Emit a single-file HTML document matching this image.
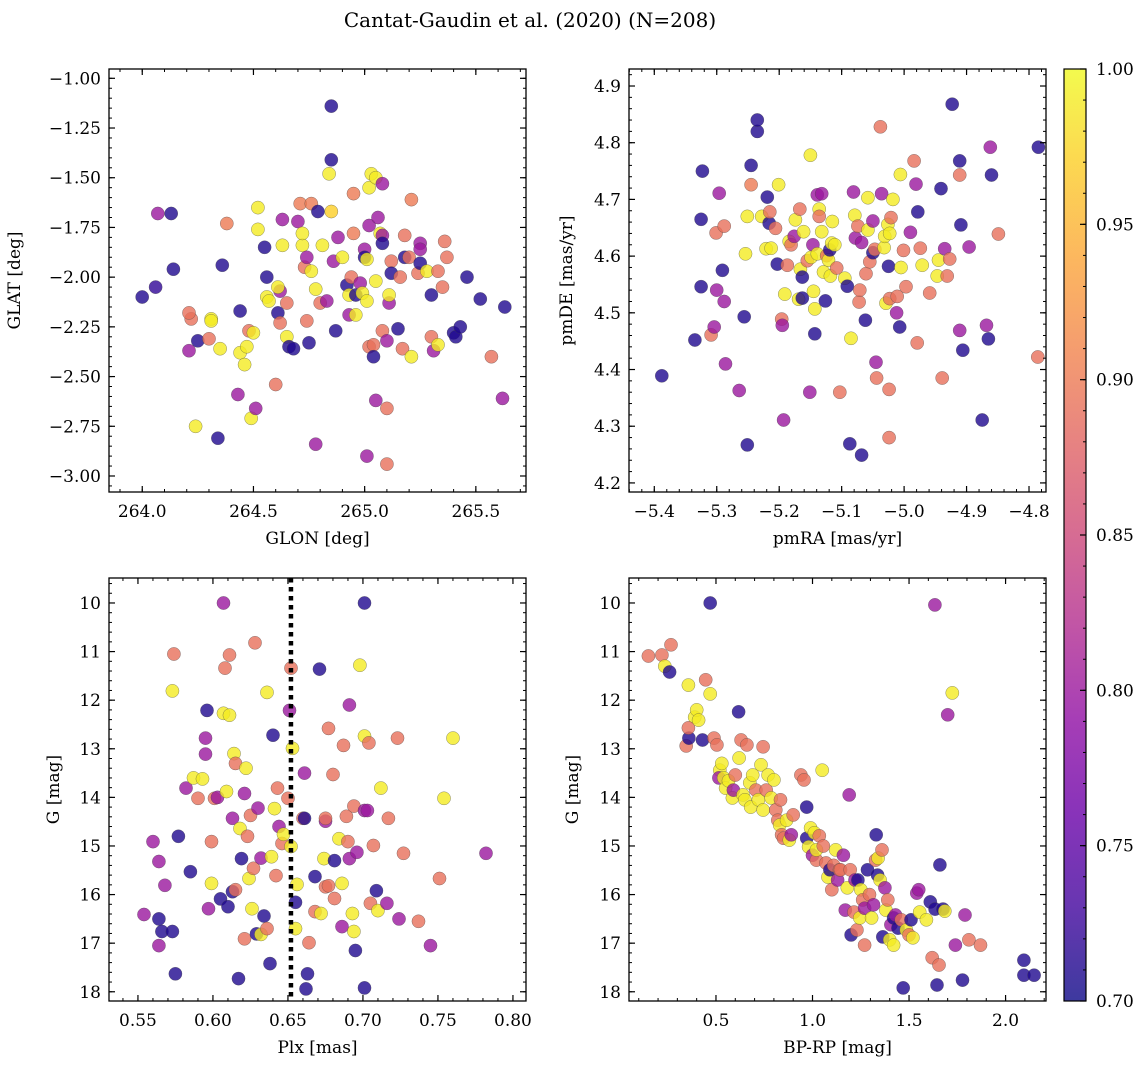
<!DOCTYPE html>
<html><head><meta charset="utf-8">
<style>
html,body{margin:0;padding:0;background:#fff;}
svg{display:block;font-family:"DejaVu Serif","Liberation Serif",serif;}
</style></head>
<body>
<svg id="fig" width="1148" height="1068" viewBox="0 0 1148 1068" xmlns="http://www.w3.org/2000/svg">
<defs>
<linearGradient id="cbgrad" x1="0" y1="1" x2="0" y2="0">
<stop offset="0" stop-color="#0d0887"/><stop offset="0.1" stop-color="#41049d"/><stop offset="0.2" stop-color="#6a00a8"/><stop offset="0.3" stop-color="#8f0da4"/><stop offset="0.4" stop-color="#b12a90"/><stop offset="0.5" stop-color="#cc4778"/><stop offset="0.6" stop-color="#e16462"/><stop offset="0.7" stop-color="#f2844b"/><stop offset="0.8" stop-color="#fca636"/><stop offset="0.9" stop-color="#fcce25"/><stop offset="1" stop-color="#f0f921"/>
</linearGradient>
</defs>
<text x="530" y="27" font-size="20" text-anchor="middle">Cantat-Gaudin et al. (2020) (N=208)</text>
</svg>
<script>
// ---------- Panel 1: GLON / GLAT ----------
const p1x=[264.0,264.07,264.13,264.06,264.14,264.22,264.21,264.21,264.25,264.24,264.30,264.31,264.31,264.34,264.35,264.38,264.36,264.44,264.43,264.44,264.46,264.47,264.48,264.49,264.50,264.51,264.52,264.52,264.55,264.56,264.56,264.57,264.60,264.61,264.62,264.61,264.63,264.63,264.62,264.65,264.65,264.66,264.68,264.70,264.71,264.72,264.72,264.73,264.74,264.74,264.75,264.76,264.76,264.78,264.78,264.79,264.80,264.81,264.83,264.84,264.85,264.85,264.85,264.86,264.87,264.88,264.90,264.92,264.93,264.93,264.94,264.95,264.96,264.95,264.96,264.98,264.99,265.00,265.00,265.01,265.01,265.02,265.02,265.02,265.04,265.04,265.05,265.05,265.06,265.07,265.08,265.08,265.08,265.10,265.11,265.11,265.03,265.05,265.08,265.10,265.01,265.10,265.12,265.12,265.15,265.16,265.17,265.18,265.18,265.20,265.21,265.21,265.24,265.25,265.25,265.28,265.30,265.30,265.31,265.33,265.33,265.35,265.36,265.37,265.40,265.41,265.43,265.46,265.52,265.57,265.62,265.63,265.25];
const p1y=[-2.10,-1.68,-1.68,-2.05,-1.96,-2.21,-2.18,-2.37,-2.32,-2.75,-2.31,-2.21,-2.22,-2.81,-2.36,-1.73,-1.94,-2.17,-2.59,-2.38,-2.44,-2.35,-2.27,-2.71,-2.28,-2.66,-1.65,-1.76,-1.85,-2.00,-2.10,-2.12,-2.54,-2.18,-2.07,-2.05,-1.71,-1.84,-2.23,-2.13,-2.30,-2.35,-2.36,-1.72,-1.63,-1.84,-1.78,-1.95,-1.90,-2.22,-2.33,-1.63,-1.97,-2.06,-2.84,-1.67,-2.13,-1.84,-2.12,-1.48,-1.41,-1.14,-1.67,-1.92,-2.27,-1.80,-1.90,-2.04,-2.09,-2.19,-2.00,-1.78,-2.19,-1.58,-2.09,-2.03,-2.08,-1.86,-1.90,-1.91,-2.12,-1.74,-1.55,-2.35,-2.34,-2.40,-2.02,-2.62,-1.70,-1.78,-1.79,-1.83,-2.27,-2.32,-2.13,-2.09,-1.48,-1.50,-1.53,-2.94,-2.90,-2.66,-1.92,-1.98,-2.26,-2.00,-2.36,-1.79,-1.90,-1.90,-1.61,-2.40,-1.98,-1.83,-1.93,-1.97,-2.30,-2.09,-2.37,-1.97,-2.34,-2.05,-1.82,-1.90,-2.28,-2.30,-2.25,-2.00,-2.11,-2.40,-2.61,-2.15,-1.86];
const p1c=[.71,.80,.71,.72,.71,.89,.89,.80,.71,.99,.89,.99,.99,.71,.99,.90,.71,.71,.80,.99,.99,.99,.89,.99,.99,.80,.99,.99,.71,.71,.99,.99,.89,.71,.80,.99,.80,.99,.89,.89,.99,.71,.71,.80,.90,.99,.99,.89,.80,.89,.71,.90,.99,.99,.80,.71,.89,.99,.80,.99,.71,.71,.97,.80,.71,.80,.99,.71,.99,.80,.89,.90,.99,.90,.71,.80,.99,.80,.71,.99,.99,.80,.99,.89,.89,.71,.99,.80,.80,.99,.80,.71,.89,.80,.80,.99,.99,.99,.80,.89,.80,.89,.89,.71,.71,.89,.89,.89,.71,.89,.90,.99,.89,.80,.71,.99,.89,.71,.80,.89,.99,.89,.89,.89,.71,.71,.71,.71,.71,.89,.80,.71,.80];
const p1xTicks=[264.0,264.5,265.0,265.5];
const p1xLabels=["264.0","264.5","265.0","265.5"];
const p1yTicks=[-1.00,-1.25,-1.50,-1.75,-2.00,-2.25,-2.50,-2.75,-3.00];
const p1yLabels=["−1.00","−1.25","−1.50","−1.75","−2.00","−2.25","−2.50","−2.75","−3.00"];

// ---------- Panel 2: pmRA / pmDE ----------
const p2x=[-5.388,-5.335,-5.325,-5.323,-5.309,-5.304,-5.301,-5.296,-5.291,-5.288,-5.288,-5.286,-5.264,-5.256,-5.254,-5.251,-5.251,-5.245,-5.245,-5.235,-5.235,-5.228,-5.221,-5.219,-5.216,-5.215,-5.213,-5.206,-5.203,-5.201,-5.196,-5.195,-5.193,-5.191,-5.187,-5.184,-5.181,-5.176,-5.174,-5.169,-5.167,-5.166,-5.163,-5.163,-5.161,-5.155,-5.151,-5.150,-5.149,-5.146,-5.145,-5.143,-5.143,-5.139,-5.139,-5.136,-5.136,-5.132,-5.132,-5.129,-5.126,-5.124,-5.121,-5.119,-5.118,-5.116,-5.115,-5.111,-5.108,-5.103,-5.095,-5.091,-5.087,-5.085,-5.081,-5.079,-5.078,-5.074,-5.072,-5.071,-5.068,-5.068,-5.062,-5.061,-5.058,-5.058,-5.055,-5.050,-5.050,-5.047,-5.045,-5.044,-5.038,-5.036,-5.032,-5.031,-5.029,-5.026,-5.025,-5.023,-5.023,-5.021,-5.018,-5.012,-5.011,-5.007,-5.006,-5.005,-5.024,-5.024,-5.001,-4.997,-4.990,-4.984,-4.981,-4.979,-4.978,-4.974,-4.971,-4.959,-4.947,-4.945,-4.941,-4.939,-4.935,-4.927,-4.923,-4.911,-4.911,-4.909,-4.911,-4.906,-4.896,-4.931,-4.875,-4.868,-4.865,-4.862,-4.860,-4.849,-4.786,-4.785,-5.325,-5.300];
const p2y=[4.389,4.452,4.546,4.750,4.461,4.475,4.641,4.711,4.575,4.653,4.520,4.410,4.363,4.493,4.604,4.670,4.267,4.726,4.760,4.820,4.840,4.670,4.613,4.704,4.658,4.678,4.614,4.649,4.586,4.726,4.489,4.478,4.311,4.533,4.584,4.626,4.620,4.635,4.664,4.524,4.683,4.577,4.563,4.526,4.643,4.592,4.360,4.778,4.598,4.620,4.538,4.507,4.463,4.708,4.604,4.683,4.670,4.643,4.710,4.572,4.521,4.601,4.593,4.611,4.565,4.623,4.661,4.620,4.579,4.360,4.561,4.547,4.269,4.455,4.713,4.672,4.632,4.653,4.519,4.540,4.624,4.249,4.487,4.569,4.703,4.646,4.590,4.606,4.662,4.612,4.413,4.385,4.828,4.710,4.615,4.635,4.517,4.656,4.582,4.525,4.640,4.668,4.700,4.500,4.529,4.475,4.744,4.580,4.365,4.280,4.610,4.546,4.642,4.768,4.727,4.447,4.678,4.614,4.584,4.535,4.565,4.593,4.719,4.385,4.613,4.595,4.868,4.768,4.743,4.655,4.469,4.434,4.616,4.565,4.311,4.478,4.454,4.792,4.743,4.639,4.422,4.792,4.665,4.540,4.505];
const p2c=[.71,.71,.71,.71,.89,.80,.89,.80,.71,.89,.80,.80,.80,.71,.99,.99,.71,.90,.71,.71,.71,.99,.99,.71,.71,.89,.99,.89,.71,.99,.89,.80,.80,.99,.89,.99,.89,.80,.99,.99,.89,.99,.71,.71,.99,.89,.80,.99,.99,.80,.99,.99,.71,.80,.99,.99,.89,.99,.80,.99,.71,.89,.99,.71,.99,.99,.99,.99,.89,.89,.99,.71,.71,.99,.80,.99,.80,.89,.89,.89,.80,.71,.71,.89,.99,.99,.89,.71,.80,.89,.80,.89,.89,.80,.99,.99,.99,.99,.71,.89,.99,.89,.99,.80,.89,.71,.99,.99,.89,.89,.89,.89,.80,.89,.80,.89,.71,.89,.99,.89,.99,.99,.71,.89,.80,.89,.71,.71,.89,.71,.80,.71,.80,.89,.71,.80,.71,.80,.71,.89,.89,.71,.71,.80,.71];
const p2xTicks=[-5.4,-5.3,-5.2,-5.1,-5.0,-4.9,-4.8];
const p2xLabels=["−5.4","−5.3","−5.2","−5.1","−5.0","−4.9","−4.8"];
const p2yTicks=[4.2,4.3,4.4,4.5,4.6,4.7,4.8,4.9];
const p2yLabels=["4.2","4.3","4.4","4.5","4.6","4.7","4.8","4.9"];

// ---------- Panel 3: Plx / G ----------
const p3x=[0.554,0.560,0.564,0.564,0.564,0.566,0.568,0.573,0.574,0.573,0.575,0.577,0.582,0.585,0.587,0.590,0.593,0.595,0.595,0.596,0.597,0.599,0.599,0.601,0.603,0.605,0.607,0.607,0.608,0.609,0.610,0.611,0.611,0.613,0.614,0.613,0.615,0.615,0.617,0.618,0.619,0.621,0.621,0.622,0.623,0.624,0.625,0.626,0.627,0.628,0.629,0.630,0.632,0.632,0.634,0.636,0.636,0.638,0.639,0.640,0.641,0.642,0.643,0.644,0.646,0.647,0.650,0.651,0.652,0.652,0.653,0.655,0.655,0.656,0.660,0.661,0.661,0.662,0.663,0.664,0.668,0.668,0.671,0.672,0.674,0.675,0.675,0.675,0.677,0.677,0.680,0.681,0.681,0.684,0.686,0.686,0.687,0.689,0.690,0.691,0.691,0.693,0.694,0.694,0.695,0.696,0.698,0.701,0.701,0.701,0.703,0.704,0.705,0.701,0.707,0.709,0.710,0.712,0.716,0.717,0.723,0.724,0.727,0.737,0.745,0.751,0.754,0.760,0.782];
const p3y=[16.41,14.91,15.32,16.50,17.05,16.76,15.81,11.81,11.05,16.76,17.63,14.80,13.81,15.53,13.60,14.02,13.62,13.11,12.78,12.21,16.29,14.91,15.77,14.02,14.00,16.09,12.27,10.00,11.34,13.88,16.25,12.31,11.07,14.43,13.10,15.94,15.90,13.30,17.73,14.64,15.26,16.91,13.92,13.40,14.80,15.67,14.37,16.29,15.46,10.82,16.81,14.22,16.82,15.25,16.44,11.84,16.70,17.42,15.22,12.72,14.23,15.61,13.81,14.60,14.95,14.76,14.02,12.21,15.01,11.34,12.99,16.16,16.70,15.79,14.43,13.50,14.43,17.94,17.63,16.99,16.35,15.63,11.36,16.39,15.26,15.84,14.49,14.43,12.58,15.82,13.53,15.30,16.08,14.85,16.66,15.77,12.93,14.39,14.91,15.26,12.10,16.39,14.18,16.76,17.15,15.13,11.28,17.92,12.74,14.27,14.27,12.88,16.18,10.00,14.99,15.92,16.33,13.81,16.18,14.43,12.78,16.50,15.15,16.55,17.05,15.67,14.02,12.78,15.15,17.46,16.70,14.95,14.54,15.36,16.45];
const p3c=[.80,.80,.80,.71,.80,.71,.80,.99,.89,.71,.71,.71,.80,.71,.99,.89,.99,.80,.80,.71,.80,.89,.99,.89,.80,.71,.99,.80,.89,.99,.71,.99,.89,.80,.99,.71,.89,.89,.71,.99,.71,.89,.80,.99,.89,.99,.89,.99,.89,.89,.71,.80,.99,.80,.71,.99,.89,.71,.99,.71,.99,.89,.89,.80,.89,.99,.89,.80,.99,.89,.99,.71,.99,.99,.89,.80,.71,.71,.71,.89,.89,.71,.71,.99,.99,.89,.80,.89,.89,.89,.89,.71,.89,.99,.80,.99,.89,.89,.89,.80,.80,.99,.89,.99,.71,.80,.99,.71,.99,.80,.80,.89,.89,.71,.89,.71,.99,.99,.80,.89,.89,.80,.89,.89,.80,.89,.99,.99,.80,.89,.80,.71,.80,.89,.71];
const p3xTicks=[0.55,0.60,0.65,0.70,0.75,0.80];
const p3xLabels=["0.55","0.60","0.65","0.70","0.75","0.80"];
const p3yTicks=[10,11,12,13,14,15,16,17,18];
const p3yLabels=["10","11","12","13","14","15","16","17","18"];
const plxMedian=0.652;

// ---------- Panel 4: BP-RP / G ----------
const p4x=[0.15,0.22,0.235,0.267,0.26,0.357,0.39,0.40,0.346,0.36,0.357,0.41,0.43,0.447,0.47,0.47,0.49,0.505,0.52,0.53,0.515,0.54,0.55,0.565,0.585,0.59,0.60,0.617,0.63,0.62,0.64,0.65,0.66,0.675,0.68,0.69,0.707,0.72,0.733,0.744,0.744,0.76,0.77,0.786,0.80,0.81,0.82,0.83,0.834,0.84,0.85,0.866,0.88,0.89,0.90,0.94,0.956,0.97,0.97,0.98,0.99,1.0,1.01,1.02,1.02,1.035,1.05,1.056,1.07,1.08,1.09,1.10,1.11,1.12,1.13,1.14,1.145,1.16,1.17,1.18,1.19,1.195,1.20,1.215,1.22,1.23,1.235,1.245,1.25,1.26,1.27,1.27,1.285,1.295,1.306,1.316,1.327,1.33,1.337,1.34,1.35,1.36,1.364,1.375,1.38,1.39,1.40,1.406,1.42,1.42,1.43,1.443,1.46,1.47,1.486,1.50,1.51,1.52,1.54,1.55,1.555,1.59,1.61,1.62,1.635,1.634,1.645,1.655,1.66,1.676,1.685,1.70,1.724,1.74,1.777,1.79,1.81,1.87,2.095,2.095,2.148];
const p4y=[11.09,11.07,11.30,10.86,11.42,11.69,12.35,12.20,12.94,12.78,12.57,12.41,12.82,11.58,11.87,10.00,12.78,12.92,13.44,13.30,13.60,13.60,13.81,13.66,14.01,13.85,13.54,12.24,12.82,13.19,13.95,14.05,12.92,13.70,14.20,13.54,13.85,14.05,13.33,12.96,14.26,13.85,13.54,14.01,13.64,14.26,14.47,14.57,14.05,14.77,14.84,14.47,14.88,14.77,14.36,13.54,13.64,14.20,14.84,15.02,14.63,15.19,14.73,15.29,15.08,14.79,13.44,15.00,15.35,15.64,15.49,15.90,15.40,15.08,15.70,15.49,15.49,15.19,16.32,15.86,13.95,15.49,16.83,16.36,15.70,16.73,15.70,16.48,15.90,16.11,16.28,17.04,15.49,16.00,16.48,16.21,15.29,14.77,15.60,15.25,15.70,15.08,16.87,15.86,16.32,16.11,16.93,16.62,16.48,17.04,16.42,16.69,16.52,17.92,16.73,16.83,16.52,16.89,15.97,15.90,16.36,16.52,16.15,17.30,16.30,10.04,17.86,17.45,15.39,16.30,16.34,12.30,11.85,17.04,17.76,16.42,16.93,17.04,17.35,17.66,17.66];
const p4c=[.89,.89,.99,.89,.71,.99,.99,.99,.89,.71,.89,.99,.71,.89,.99,.71,.89,.89,.99,.99,.80,.99,.99,.99,.99,.80,.89,.71,.89,.99,.99,.99,.89,.99,.99,.99,.89,.99,.99,.89,.99,.89,.99,.99,.99,.89,.89,.99,.89,.89,.89,.99,.99,.80,.89,.89,.89,.71,.71,.99,.99,.80,.99,.89,.99,.89,.99,.89,.89,.99,.71,.89,.89,.99,.80,.89,.89,.80,.80,.99,.80,.89,.71,.89,.80,.89,.71,.99,.99,.89,.80,.89,.71,.89,.99,.80,.89,.71,.71,.99,.99,.89,.71,.80,.99,.89,.99,.80,.71,.99,.80,.71,.89,.71,.99,.89,.71,.99,.80,.80,.99,.99,.71,.89,.71,.80,.71,.89,.71,.71,.99,.80,.99,.80,.71,.80,.89,.89,.71,.71,.71];
const p4xTicks=[0.5,1.0,1.5,2.0];
const p4xLabels=["0.5","1.0","1.5","2.0"];

// ---------- Colorbar ----------
const cbTicks=[0.70,0.75,0.80,0.85,0.90,0.95,1.00];
const cbLabels=["0.70","0.75","0.80","0.85","0.90","0.95","1.00"];
const cMin=0.70, cMax=1.00;

const NS="http://www.w3.org/2000/svg";
const svg=document.getElementById('fig');
function mk(tag,attrs,parent){const e=document.createElementNS(NS,tag);for(const k in attrs)e.setAttribute(k,attrs[k]);(parent||svg).appendChild(e);return e;}

const stops=[[13,8,135],[65,4,157],[106,0,168],[143,13,164],[177,42,144],[204,71,120],[225,100,98],[242,132,75],[252,166,54],[252,206,37],[240,249,33]];
function plasma(v){let t=(v-cMin)/(cMax-cMin);t=Math.max(0,Math.min(1,t))*10;const i=Math.min(9,Math.floor(t)),f=t-i;const a=stops[i],b=stops[i+1];return 'rgb('+[0,1,2].map(k=>Math.round(a[k]+(b[k]-a[k])*f)).join(',')+')';}

const FS=17;
function panel(name,box,xdom,ydom,xT,xL,xMinor,yT,yL,yMinor,xs,ys,cs,xlab,ylab,ylabX){
  const [X0,Y0,W,H]=box;
  const g=mk('g',{});
  
  
  const sx=v=>X0+(v-xdom[0])/(xdom[1]-xdom[0])*W;
  const sy=v=>Y0+(ydom[1]-v)/(ydom[1]-ydom[0])*H;
  const pts=mk('g',{},g);
  
  
  for(let i=0;i<xs.length;i++){
    const c=mk('circle',{cx:sx(xs[i]).toFixed(1),cy:sy(ys[i]).toFixed(1),r:6.6,fill:plasma(cs[i]),'fill-opacity':0.8,stroke:'#444','stroke-width':0.5,'stroke-opacity':0.6},pts);
    
    
  }
  const lo=Math.min(xdom[0],xdom[1]),hi=Math.max(xdom[0],xdom[1]);
  for(let v=Math.ceil(lo/xMinor-1e-6)*xMinor;v<=hi+1e-9;v+=xMinor){const x=sx(v);mk('line',{x1:x,x2:x,y1:Y0+H,y2:Y0+H-3,stroke:'#000','stroke-width':1},g);mk('line',{x1:x,x2:x,y1:Y0,y2:Y0+3,stroke:'#000','stroke-width':1},g);}
  const ylo=Math.min(ydom[0],ydom[1]),yhi=Math.max(ydom[0],ydom[1]);
  for(let v=Math.ceil(ylo/yMinor-1e-6)*yMinor;v<=yhi+1e-9;v+=yMinor){const y=sy(v);mk('line',{x1:X0,x2:X0+3,y1:y,y2:y,stroke:'#000','stroke-width':1},g);mk('line',{x1:X0+W,x2:X0+W-3,y1:y,y2:y,stroke:'#000','stroke-width':1},g);}
  xT.forEach((v,i)=>{const x=sx(v);mk('line',{x1:x,x2:x,y1:Y0+H,y2:Y0+H-6,stroke:'#000','stroke-width':1.2},g);mk('line',{x1:x,x2:x,y1:Y0,y2:Y0+6,stroke:'#000','stroke-width':1.2},g);
    const t=mk('text',{x:x,y:Y0+H+25,'font-size':FS,'text-anchor':'middle'},g);t.textContent=xL[i];
    
    });
  yT.forEach((v,i)=>{const y=sy(v);mk('line',{x1:X0,x2:X0+6,y1:y,y2:y,stroke:'#000','stroke-width':1.2},g);mk('line',{x1:X0+W,x2:X0+W-6,y1:y,y2:y,stroke:'#000','stroke-width':1.2},g);
    const t=mk('text',{x:X0-8,y:y+6,'font-size':FS,'text-anchor':'end'},g);t.textContent=yL[i];
    
    });
  const fr=mk('rect',{x:X0,y:Y0,width:W,height:H,fill:'none',stroke:'#000','stroke-width':1.3},g);
  
  
  const xl=mk('text',{x:X0+W/2,y:Y0+H+52,'font-size':FS,'text-anchor':'middle'},g);xl.textContent=xlab;
  
  
  const yl=mk('text',{x:ylabX,y:Y0+H/2,'font-size':FS,'text-anchor':'middle',transform:'rotate(-90 '+ylabX+' '+(Y0+H/2)+')'},g);yl.textContent=ylab;
  
  
  return {sx,sy,g};
}

panel('glon-glat-panel',[109,69,417,423],[263.8505,265.7255],[-3.0805,-0.9532],p1xTicks,p1xLabels,0.1,p1yTicks,p1yLabels,0.05,p1x,p1y,p1c,'GLON [deg]','GLAT [deg]',20);
panel('proper-motion-panel',[629,69,417,423],[-5.4405,-4.7728],[4.184,4.930],p2xTicks,p2xLabels,0.02,p2yTicks,p2yLabels,0.02,p2x,p2y,p2c,'pmRA [mas/yr]','pmDE [mas/yr]',572);
const P3=panel('parallax-panel',[109,578,417,423],[0.5307,0.8087],[-18.19,-9.486],p3xTicks,p3xLabels,0.01,p3yTicks.map(v=>-v),p3yLabels,0.2,p3x,p3y.map(v=>-v),p3c,'Plx [mas]','G [mag]',59);
panel('cmd-panel',[629,578,417,423],[0.0495,2.2094],[-18.19,-9.486],p4xTicks,p4xLabels,0.1,p3yTicks.map(v=>-v),p3yLabels,0.2,p4x,p4y.map(v=>-v),p4c,'BP-RP [mag]','G [mag]',578);

const ml=mk('line',{x1:P3.sx(plxMedian),x2:P3.sx(plxMedian),y1:578,y2:1001,stroke:'#000','stroke-width':4.5,'stroke-dasharray':'4.5,4.5'});



const cb=mk('g',{});


const CY0=69,CH=932,CX=1064,CW=22;
mk('rect',{x:CX,y:CY0,width:CW,height:CH,fill:'url(#cbgrad)','fill-opacity':0.8},cb);
const cy=v=>CY0+(cMax-v)/(cMax-cMin)*CH;
for(let v=cMin;v<=cMax+1e-9;v+=0.01){mk('line',{x1:CX+CW,x2:CX+CW-3,y1:cy(v),y2:cy(v),stroke:'#000','stroke-width':1},cb);}
cbTicks.forEach((v,i)=>{mk('line',{x1:CX+CW,x2:CX+CW-6,y1:cy(v),y2:cy(v),stroke:'#000','stroke-width':1.2},cb);
  const t=mk('text',{x:CX+CW+10,y:cy(v)+6,'font-size':FS},cb);t.textContent=cbLabels[i];
  
  });
mk('rect',{x:CX,y:CY0,width:CW,height:CH,fill:'none',stroke:'#000','stroke-width':1.2},cb);
</script>
</body></html>
